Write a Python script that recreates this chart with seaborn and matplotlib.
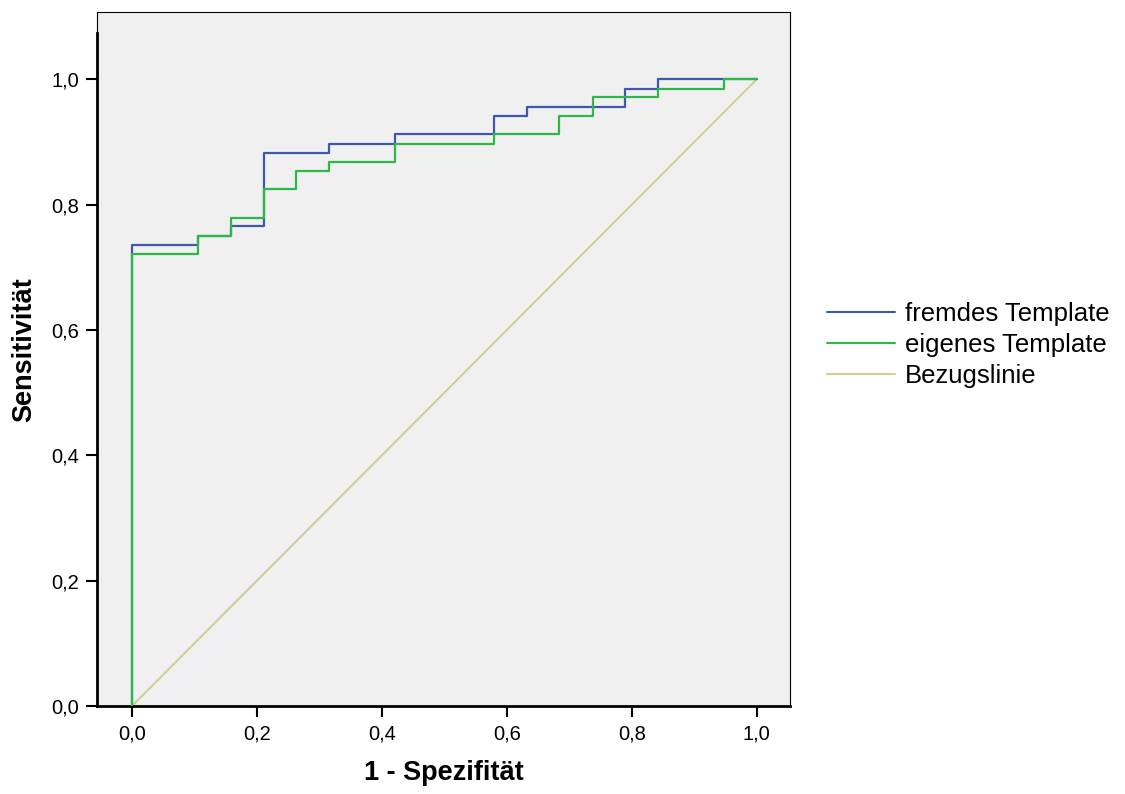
import matplotlib
matplotlib.use("Agg")
import matplotlib.pyplot as plt
import numpy as np
import pandas as pd
import seaborn as sns

# ROC curves (x = 1 - Spezifitaet, y = Sensitivitaet)
fremdX = [0.0, 0.0, 0.105, 0.158, 0.211, 0.316, 0.421, 0.579, 0.632, 0.789, 0.842, 1.0]
fremdY = [0.0, 0.735, 0.750, 0.765, 0.882, 0.897, 0.912, 0.941, 0.956, 0.985, 1.0, 1.0]

eigenX = [0.0, 0.0, 0.105, 0.158, 0.211, 0.263, 0.316, 0.421, 0.579, 0.684, 0.737, 0.842, 0.947, 1.0]
eigenY = [0.0, 0.721, 0.750, 0.779, 0.824, 0.853, 0.868, 0.897, 0.912, 0.941, 0.971, 0.985, 1.0, 1.0]

refX = [0.0, 1.0]
refY = [0.0, 1.0]

tickValues = [0.0, 0.2, 0.4, 0.6, 0.8, 1.0]
tickLabels = ["0,0", "0,2", "0,4", "0,6", "0,8", "1,0"]

sns.set_style("white")
plt.rcParams['font.family'] = ['Liberation Sans', 'DejaVu Sans']
plt.rcParams['text.color'] = 'black'
plt.rcParams['axes.labelcolor'] = 'black'

fig = plt.figure(figsize=(11.25, 7.94), dpi=100)
ax = fig.add_axes([0.0862, 0.1108, 0.616, 0.874])
ax.set_facecolor('#f0f0f0')

dfRef = pd.DataFrame({'x': refX, 'y': refY})
dfFremd = pd.DataFrame({'x': fremdX, 'y': fremdY})
dfEigen = pd.DataFrame({'x': eigenX, 'y': eigenY})

sns.lineplot(data=dfRef, x='x', y='y', ax=ax, color='#d3ce97', linewidth=1.5,
             sort=False, estimator=None, label='Bezugslinie', zorder=2)
sns.lineplot(data=dfFremd, x='x', y='y', ax=ax, color='#3e58ac', linewidth=1.6,
             sort=False, estimator=None, drawstyle='steps-post', label='fremdes Template', zorder=3)
sns.lineplot(data=dfEigen, x='x', y='y', ax=ax, color='#2eb848', linewidth=1.6,
             sort=False, estimator=None, drawstyle='steps-post', label='eigenes Template', zorder=4)

ax.set_xlim(-0.056, 1.053)
ax.set_ylim(0, 1.107)
ax.set_xticks(tickValues)
ax.set_xticklabels(tickLabels)
ax.set_yticks(tickValues)
ax.set_yticklabels(tickLabels)
ax.tick_params(axis='both', direction='out', length=8, width=1.5, labelsize=14.5,
               color='black', labelcolor='black', bottom=True, left=True, pad=5)

# axis lines like SPSS: thick left/bottom, thin frame
for side in ['top', 'right']:
    ax.spines[side].set_linewidth(0.8)
    ax.spines[side].set_color('black')
ax.spines['left'].set_linewidth(2)
ax.spines['left'].set_color('black')
ax.spines['left'].set_bounds(0, 1.073)
ax.spines['bottom'].set_linewidth(2)
ax.spines['bottom'].set_color('black')
ax.plot([0, 0], [0.97, 1.0], transform=ax.transAxes, color='black', linewidth=0.8, clip_on=False)

ax.set_xlabel('1 - Spezifität', fontsize=19.5, fontweight='bold', labelpad=12)
ax.set_ylabel('Sensitivität', fontsize=19.5, fontweight='bold', labelpad=10)
ax.yaxis.label.set_y(0.514)

# legend outside, order: fremdes, eigenes, Bezugslinie
handles, labels = ax.get_legend_handles_labels()
order = [labels.index('fremdes Template'), labels.index('eigenes Template'), labels.index('Bezugslinie')]
ax.legend([handles[i] for i in order], [labels[i] for i in order],
          loc='center left', bbox_to_anchor=(0.735, 0.5655), bbox_transform=fig.transFigure,
          frameon=False, fontsize=18.5, handlelength=2.65, handletextpad=0.4,
          borderpad=0, borderaxespad=0, labelspacing=0.28)
for line in ax.get_legend().get_lines():
    line.set_linewidth(1.5)

fig.savefig('out.png', dpi=100)
